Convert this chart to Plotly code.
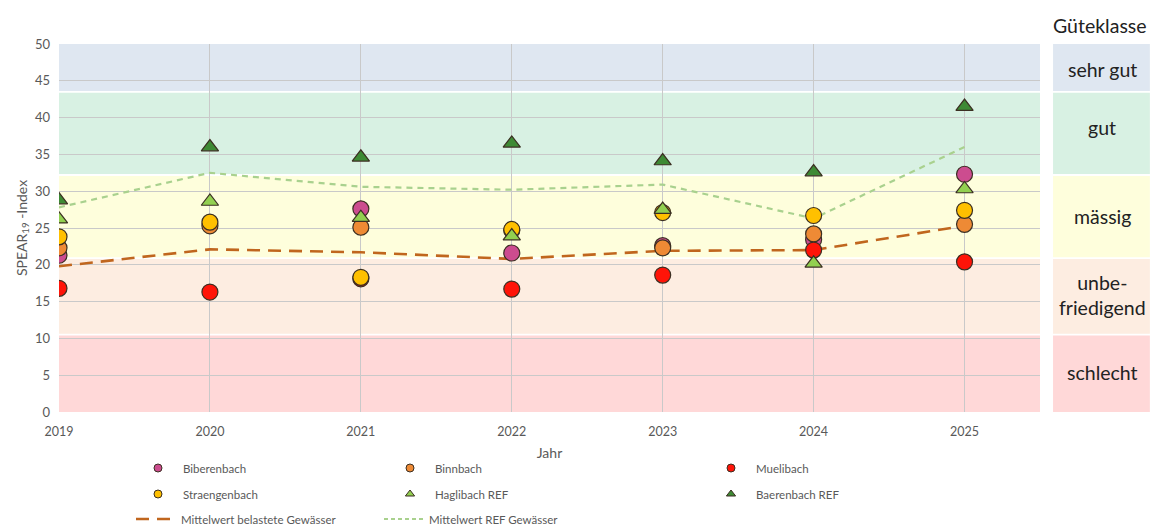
import plotly.graph_objects as go

years = [2019, 2020, 2021, 2022, 2023, 2024, 2025]

biberenbach   = [21.3, None, 27.6, 21.6, 22.6, 23.4, 32.3]
binnbach      = [22.3, 25.3, 25.1, 24.7, 22.3, 24.2, 25.5]
muelibach     = [16.8, 16.3, 18.1, 16.7, 18.6, 22.0, 20.4]
straengenbach = [23.8, 25.8, 18.3, 24.8, 27.1, 26.7, 27.4]
haglibach_ref = [26.2, 28.6, 26.4, 23.9, 27.5, 20.2, 30.3]
baerenbach_ref = [28.8, 36.0, 34.6, 36.5, 34.1, 32.6, 41.5]

mean_belastet = [19.8, 22.1, 21.7, 20.8, 21.9, 22.0, 25.3]
mean_ref      = [27.8, 32.5, 30.6, 30.2, 30.9, 26.3, 36.0]

class_names  = ["schlecht", "unbe-<br>friedigend", "mässig", "gut", "sehr gut"]
class_bounds = [0, 10.5, 20.9, 32.2, 43.5, 50]
class_colors = ["#FFD8D8", "#FDEDE1", "#FEFEDC", "#D8F1E3", "#DFE7F1"]
class_label_y = [5.3, 15.9, 26.5, 38.6, 46.6]

y_ticks = list(range(0, 51, 5))

FONT = "Lato, 'Open Sans', sans-serif"
GRAY = "#595959"
OUTLINE = "#3b2f22"

fig = go.Figure()

# mean lines (below markers)
fig.add_trace(go.Scatter(x=years, y=mean_belastet, mode="lines", showlegend=False,
                         line=dict(color="#C0661E", width=2.6, dash="13px,8px")))
fig.add_trace(go.Scatter(x=years, y=mean_ref, mode="lines", showlegend=False,
                         line=dict(color="#A9D18E", width=2.2, dash="6px,5px")))

series = [
    ("Biberenbach", biberenbach, "circle", "#CC4C8F"),
    ("Binnbach", binnbach, "circle", "#EE8A35"),
    ("Muelibach", muelibach, "circle", "#FF1408"),
    ("Straengenbach", straengenbach, "circle", "#FFC000"),
    ("Haglibach REF", haglibach_ref, "triangle-up", "#92D050"),
    ("Baerenbach REF", baerenbach_ref, "triangle-up", "#3E8A34"),
]
for name, vals, sym, col in series:
    fig.add_trace(go.Scatter(x=years, y=vals, mode="markers", showlegend=False, name=name,
                             marker=dict(symbol=sym, size=16 if sym == "circle" else 15,
                                         color=col, line=dict(color=OUTLINE, width=1.2))))

# legend-only entries, one legend per slot (left edge of legend box, row centre)
legend_slots = {
    "Biberenbach": (133, 468), "Binnbach": (385, 468), "Muelibach": (706, 468),
    "Straengenbach": (133, 494), "Haglibach REF": (385, 494), "Baerenbach REF": (706, 494),
    "Mittelwert belastete Gewässer": (131, 519), "Mittelwert REF Gewässer": (379, 519),
}
entries = [(n, dict(mode="markers", marker=dict(symbol=s, size=8, color=c,
                                                  line=dict(color=OUTLINE, width=1))))
           for n, _, s, c in series]
entries.append(("Mittelwert belastete Gewässer",
                dict(mode="lines", line=dict(color="#C0661E", width=2.6, dash="13px,8px"))))
entries.append(("Mittelwert REF Gewässer",
                dict(mode="lines", line=dict(color="#A9D18E", width=2.2, dash="4px,3px"))))

L, T, W, H = 59, 44, 981, 368
layout_legends = {}
for i, (name, kw) in enumerate(entries):
    key = "legend" if i == 0 else f"legend{i+1}"
    fig.add_trace(go.Scatter(x=[None], y=[None], name=name, showlegend=True,
                             legend=key, **kw))
    px, py = legend_slots[name]
    layout_legends[key] = dict(x=(px - L) / W, y=(T + H - py) / H,
                               xanchor="left", yanchor="middle", itemwidth=40,
                               bgcolor="rgba(0,0,0,0)",
                               font=dict(family=FONT, size=11.5, color=GRAY))

shapes = []
for i in range(len(class_names)):
    y0 = class_bounds[i] + (0.12 if i > 0 else 0)
    y1 = class_bounds[i + 1] - (0.12 if i < len(class_names) - 1 else 0)
    shapes.append(dict(type="rect", xref="paper", yref="y", x0=0, x1=1, y0=y0, y1=y1,
                       fillcolor=class_colors[i], line=dict(width=0), layer="below"))
    shapes.append(dict(type="rect", xref="paper", yref="y", x0=1.0133, x1=1.112,
                       y0=y0, y1=y1, fillcolor=class_colors[i], line=dict(width=0),
                       layer="below"))

annotations = [dict(text="Güteklasse", xref="paper", yref="paper", x=1.0615,
                    xanchor="center", yanchor="middle",
                    y=(T + H - 25) / H, showarrow=False,
                    font=dict(family=FONT, size=19.5, color="#222222"))]
for i, nm in enumerate(class_names):
    annotations.append(dict(text=nm, xref="paper", yref="y", x=1.0635,
                            xanchor="center", yanchor="middle",
                            y=class_label_y[i], showarrow=False,
                            font=dict(family=FONT, size=19.5, color="#222222")))

fig.update_layout(
    width=1152, height=526,
    margin=dict(l=L, r=1152 - L - W, t=T, b=526 - T - H, autoexpand=False),
    paper_bgcolor="white", plot_bgcolor="white",
    shapes=shapes, annotations=annotations,
    font=dict(family=FONT, color=GRAY),
    xaxis=dict(range=[2019, 2025.5], tickvals=years, ticktext=[str(y) for y in years],
               showgrid=True, gridcolor="#C9C9C9", gridwidth=1.2, zeroline=False,
               showline=False, ticks="", ticklabelstandoff=10,
               tickfont=dict(family=FONT, size=12.5, color=GRAY),
               title=dict(text="Jahr", font=dict(family=FONT, size=14, color=GRAY), standoff=10)),
    yaxis=dict(range=[0, 50], tickvals=y_ticks, showgrid=True, gridcolor="#C9C9C9",
               gridwidth=1.2, zeroline=False, showline=False, ticks="",
               ticklabelstandoff=8,
               tickfont=dict(family=FONT, size=13, color=GRAY),
               title=dict(text="SPEAR<sub>19</sub> -Index",
                          font=dict(family=FONT, size=14, color=GRAY), standoff=4)),
    **layout_legends,
)

fig.write_html("out.html", config={"displayModeBar": False},
               post_script="document.body.style.margin='0';")
